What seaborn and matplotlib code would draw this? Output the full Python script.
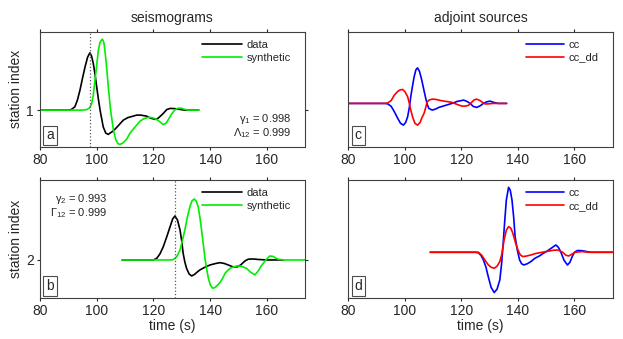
import matplotlib
matplotlib.use('Agg')
import matplotlib.pyplot as plt
import seaborn as sns

# --- valores (tiempo en s, amplitud relativa a la traza) ---
ticks_x = [80, 100, 120, 140, 160]

# estacion 1: sismogramas
t_data1 = [80, 90, 91, 92.3, 93.2, 94.1, 95, 95.9, 96.8, 97.6, 98.2, 98.8, 99.4, 100, 100.6, 101.2,
           102.3, 103.2, 104.1, 104.7, 105.5, 106.5, 107.8, 109.4, 111, 112.9, 114.1, 115.5, 117.6,
           119, 120.6, 121.5, 122.5, 123.5, 124.7, 125.9, 127.5, 129.4, 131, 136]
a_data1 = [0, 0, 0.005, 0.033, 0.1, 0.2, 0.32, 0.433, 0.53, 0.573, 0.54, 0.467, 0.36, 0.233, 0.11, 0,
           -0.167, -0.23, -0.243, -0.23, -0.215, -0.19, -0.15, -0.1, -0.075, -0.06, -0.05, -0.05, -0.06,
           -0.08, -0.093, -0.085, -0.06, -0.033, 0.005, 0.017, 0.015, 0.007, 0, 0]
t_syn1 = [80, 95, 96.5, 97.4, 98.2, 98.8, 99.4, 100, 100.6, 101.2, 102, 102.5, 102.9, 103.5, 104.1,
          104.9, 105.9, 106.8, 107.5, 108.2, 109.2, 110.6, 111.7, 112.9, 114.1, 115.3, 116.7, 118.2,
          119.5, 120.6, 122, 123.5, 124.5, 125.5, 126.4, 127.5, 128.8, 129.7, 131, 132.3, 136]
a_syn1 = [0, 0, 0.005, 0.02, 0.06, 0.15, 0.3, 0.45, 0.6, 0.68, 0.71, 0.68, 0.6, 0.43, 0.233,
          0, -0.2, -0.3, -0.335, -0.343, -0.33, -0.29, -0.233, -0.19, -0.15, -0.11, -0.085, -0.073,
          -0.075, -0.085, -0.11, -0.145, -0.13, -0.085, -0.04, 0, 0.02, 0.02, 0.008, 0, 0]

# estacion 2: sismogramas
t_data2 = [109, 120, 121.2, 122.3, 123.5, 124.7, 125.9, 126.8, 127.6, 128.5, 129.4, 130, 130.5, 131.1,
           131.7, 132.6, 133.5, 134.5, 135.5, 136.4, 138, 140, 142, 143.5, 145, 146.4, 148, 149.5,
           150.8, 152.3, 153.5, 155.2, 157, 160, 165.8]
a_data2 = [0, 0, 0.017, 0.06, 0.133, 0.23, 0.333, 0.41, 0.44, 0.4, 0.3, 0.19, 0.067, -0.02,
           -0.083, -0.14, -0.16, -0.145, -0.12, -0.1, -0.075, -0.05, -0.035, -0.027, -0.035, -0.05, -0.068, -0.07,
           -0.05, -0.01, 0.008, 0.01, 0.005, 0, 0]
t_syn2 = [109, 126, 127, 128.2, 129.4, 130.2, 131.1, 132, 132.9, 133.6, 134.4, 135.1, 135.8, 136.4, 137,
          137.6, 138.2, 138.8, 139.4, 140.1, 140.9, 141.8, 142.7, 143.5, 144.5, 145.3, 146.4, 147.3, 148.2,
          149.5, 150.5, 151.7, 152.9, 154.2, 155.8, 157, 157.9, 158.8, 159.8, 161.1, 162.3, 163.2, 164.1,
          166, 173.5]
a_syn2 = [0, 0, 0.003, 0.03, 0.1, 0.19, 0.3, 0.43, 0.533, 0.59, 0.61, 0.59, 0.533, 0.43, 0.3,
          0.16, 0.017, -0.09, -0.183, -0.25, -0.283, -0.275, -0.25, -0.225, -0.18, -0.133, -0.1, -0.08, -0.07,
          -0.06, -0.06, -0.07, -0.085, -0.12, -0.15, -0.11, -0.065, -0.033, 0.005, 0.04, 0.035, 0.018, 0.007,
          0, 0]

# estacion 1: fuentes adjuntas
t_cc1 = [80, 93, 94, 95.2, 96.3, 97.5, 98.5, 99.5, 100.3, 101, 101.6, 102.1, 102.7, 103.3, 103.9, 104.5,
         105.2, 106, 106.7, 107.4, 108, 108.5, 109.7, 111, 112, 113.2, 115.5, 116.7, 118.5, 120.8, 122,
         123.1, 124.2, 125.4, 126.6, 127.8, 128.9, 130.1, 131.5, 133, 136]
a_cc1 = [0, 0, -0.005, -0.03, -0.083, -0.15, -0.2, -0.217, -0.19, -0.133, -0.04, 0.067, 0.17, 0.267, 0.335, 0.356,
         0.32, 0.233, 0.14, 0.05, -0.015, -0.05, -0.067, -0.055, -0.04, -0.03, -0.01, 0, 0.02, 0.033, 0.02,
         0, -0.03, -0.04, -0.025, 0, 0.015, 0.023, 0.01, 0, 0]
t_dd1 = [80, 93, 94, 95.2, 96.3, 97.5, 98.3, 99.2, 100.1, 101, 101.6, 102.1, 102.8, 103.6, 104.5, 105.4,
         106.1, 106.8, 107.4, 107.9, 108.7, 109.7, 111, 112, 113.2, 115.5, 116.7, 118.5, 120.2, 121.3,
         122.5, 123.6, 124.5, 125.4, 126.5, 127.5, 128.4, 129.5, 131, 136]
a_dd1 = [0, 0, 0.005, 0.03, 0.083, 0.12, 0.135, 0.14, 0.115, 0.067, 0, -0.067, -0.14, -0.2, -0.217, -0.19,
         -0.14, -0.1, -0.04, 0.016, 0.035, 0.043, 0.04, 0.033, 0.026, 0.016, 0.01, -0.01, -0.027, -0.027,
         -0.02, 0.01, 0.035, 0.043, 0.03, 0.01, -0.005, -0.005, 0, 0]

# estacion 2: fuentes adjuntas
t_cc2 = [109, 125, 126, 126.9, 127.8, 128.7, 129.5, 130.5, 131.6, 132.6, 133.6, 134.2, 134.7, 135.3, 135.9,
         136.7, 137.3, 137.9, 138.5, 139, 139.8, 140.6, 141.3, 142.1, 143.3, 144.6, 146, 147.6, 149, 150.5,
         152, 153.4, 154.3, 155.1, 156.3, 157.5, 158.4, 159.2, 160, 161, 162.2, 163.3, 165, 166, 173.5]
a_cc2 = [0, 0, -0.005, -0.03, -0.077, -0.15, -0.243, -0.35, -0.403, -0.37, -0.277, -0.12, 0.057, 0.3, 0.523,
         0.65, 0.62, 0.523, 0.35, 0.157, 0.02, -0.077, -0.115, -0.127, -0.115, -0.093, -0.06, -0.037, -0.01, 0.015,
         0.045, 0.073, 0.05, 0.007, -0.08, -0.127, -0.1, -0.043, 0, 0.017, 0.017, 0.013, 0.003, 0, 0]
t_dd2 = [109, 126, 127.2, 128.3, 129.5, 130.5, 131.6, 132.6, 133.6, 134.3, 135.1, 135.9, 136.7, 137.5,
         138.2, 139.1, 140, 140.8, 141.7, 143, 144.6, 146.3, 148, 150.5, 152.5, 154, 155, 155.8, 157, 158,
         159, 160.3, 162.6, 165, 173.5]
a_dd2 = [0, 0, -0.03, -0.077, -0.125, -0.15, -0.16, -0.14, -0.093, -0.02, 0.123, 0.22, 0.257, 0.24,
         0.19, 0.1, 0.023, -0.025, -0.043, -0.038, -0.027, -0.012, -0.003, 0.01, 0.02, 0.023, 0.012, 0, -0.03, -0.037,
         -0.02, 0, 0.007, 0, 0]

picks = [97.8, 127.8]          # lineas punteadas (pico de los datos)
gammas = ['0.998', '0.993']
cross = ['0.999', '0.999']

sns.set_style('ticks')
plt.rcParams['font.family'] = ['Liberation Sans', 'DejaVu Sans']
plt.rcParams['mathtext.fontset'] = 'custom'
plt.rcParams['mathtext.rm'] = 'Liberation Sans'
plt.rcParams['mathtext.it'] = 'Liberation Sans'

fig = plt.figure(figsize=(6.23, 3.39), dpi=100)
ax_a = fig.add_axes([0.0642, 0.567, 0.4254, 0.339])
ax_b = fig.add_axes([0.0642, 0.122, 0.4254, 0.347])
ax_c = fig.add_axes([0.559, 0.567, 0.4244, 0.339])
ax_d = fig.add_axes([0.559, 0.122, 0.4244, 0.347])

lw = 1.2


def estilo(ax, letra):
    ax.set_xlim(80, 173.5)
    ax.set_xticks(ticks_x)
    ax.tick_params(axis='both', direction='out', length=2.5, width=0.8, labelsize=10,
                   top=True, right=True, labeltop=False, labelright=False, pad=2)
    for s in ax.spines.values():
        s.set_color('0.25')
        s.set_linewidth(0.8)
    ax.text(0.038, 0.10, letra, transform=ax.transAxes, ha='center', va='center', fontsize=10,
            bbox=dict(boxstyle='square,pad=0.2', fc='white', ec='0.3', lw=0.8))
    ax.set_xlabel('')
    ax.set_ylabel('')


# panel a
y1 = [1 + v for v in a_data1]
y1s = [1 + v for v in a_syn1]
sns.lineplot(x=t_data1, y=y1, ax=ax_a, color='black', lw=lw, label='data', estimator=None, sort=False)
sns.lineplot(x=t_syn1, y=y1s, ax=ax_a, color='#00ee00', lw=lw, label='synthetic', estimator=None, sort=False)
ax_a.axvline(picks[0], color='0.35', ls=':', lw=0.9)
ax_a.set_ylim(0.633, 1.783)
ax_a.set_yticks([1])
estilo(ax_a, 'a')
ax_a.set_ylabel('station index', fontsize=10, labelpad=2)
ax_a.set_title('seismograms', fontsize=10, pad=7)
ax_a.legend(loc='upper left', bbox_to_anchor=(0.595, 0.97), frameon=False, fontsize=8,
            handlelength=3.6, labelspacing=0.25, handletextpad=0.4, borderaxespad=0)
ax_a.text(0.948, 0.245, r'$\gamma_1$ = ' + gammas[0], transform=ax_a.transAxes, ha='right', va='center', fontsize=8)
ax_a.text(0.948, 0.12, r'$\Lambda_{12}$ = ' + cross[0], transform=ax_a.transAxes, ha='right', va='center', fontsize=8)

# panel b
y2 = [2 + v for v in a_data2]
y2s = [2 + v for v in a_syn2]
sns.lineplot(x=t_data2, y=y2, ax=ax_b, color='black', lw=lw, label='data', estimator=None, sort=False)
sns.lineplot(x=t_syn2, y=y2s, ax=ax_b, color='#00ee00', lw=lw, label='synthetic', estimator=None, sort=False)
ax_b.axvline(picks[1], color='0.35', ls=':', lw=0.9)
ax_b.set_ylim(1.623, 2.8)
ax_b.set_yticks([2])
estilo(ax_b, 'b')
ax_b.set_ylabel('station index', fontsize=10, labelpad=2)
ax_b.set_xlabel('time (s)', fontsize=10, labelpad=1)
ax_b.legend(loc='upper left', bbox_to_anchor=(0.595, 0.97), frameon=False, fontsize=8,
            handlelength=3.6, labelspacing=0.25, handletextpad=0.4, borderaxespad=0)
ax_b.text(0.255, 0.84, r'$\gamma_2$ = ' + gammas[1], transform=ax_b.transAxes, ha='right', va='center', fontsize=8)
ax_b.text(0.255, 0.72, r'$\Gamma_{12}$ = ' + cross[1], transform=ax_b.transAxes, ha='right', va='center', fontsize=8)

# panel c
sns.lineplot(x=t_cc1, y=a_cc1, ax=ax_c, color='#0000ff', lw=lw, label='cc', estimator=None, sort=False)
sns.lineplot(x=t_dd1, y=a_dd1, ax=ax_c, color='#ff0000', lw=lw, label='cc_dd', estimator=None, sort=False)
ax_c.set_ylim(-0.434, 0.716)
ax_c.set_yticks([])
estilo(ax_c, 'c')
ax_c.set_title('adjoint sources', fontsize=10, pad=7)
ax_c.legend(loc='upper left', bbox_to_anchor=(0.655, 0.97), frameon=False, fontsize=8,
            handlelength=3.4, labelspacing=0.25, handletextpad=0.4, borderaxespad=0)

# panel d
sns.lineplot(x=t_cc2, y=a_cc2, ax=ax_d, color='#0000ff', lw=lw, label='cc', estimator=None, sort=False)
sns.lineplot(x=t_dd2, y=a_dd2, ax=ax_d, color='#ff0000', lw=lw, label='cc_dd', estimator=None, sort=False)
ax_d.set_ylim(-0.454, 0.723)
ax_d.set_yticks([])
estilo(ax_d, 'd')
ax_d.set_xlabel('time (s)', fontsize=10, labelpad=1)
ax_d.legend(loc='upper left', bbox_to_anchor=(0.655, 0.97), frameon=False, fontsize=8,
            handlelength=3.4, labelspacing=0.25, handletextpad=0.4, borderaxespad=0)

fig.savefig('out.png', dpi=100)
